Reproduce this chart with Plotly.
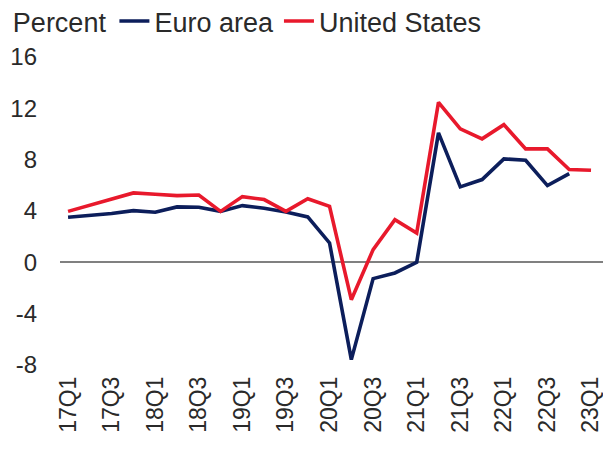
import plotly.graph_objects as go

quarters = [f"{y}Q{q}" for y in range(17, 24) for q in range(1, 5)][:25]
tick_labels = quarters[::2]

euro_area = [3.51, 3.65, 3.8, 4.03, 3.90, 4.32, 4.29, 3.97, 4.42, 4.21, 3.93, 3.54,
             1.51, -7.58, -1.27, -0.83, 0.0, 10.09, 5.88, 6.45, 8.06, 7.95, 5.98, 6.91, None]
united_states = [3.97, 4.45, 4.95, 5.41, 5.30, 5.20, 5.25, 3.97, 5.12, 4.89, 3.97, 4.96,
                 4.36, -2.91, 0.99, 3.33, 2.29, 12.47, 10.40, 9.62, 10.73, 8.84, 8.84, 7.23, 7.17]

y_ticks = [-8, -4, 0, 4, 8, 12, 16]
y_tick_text = ["-8", "-4", "0", "4", "8", "12", "16"]

FONT = "Liberation Sans, Arial, sans-serif"
TXT = "#2a2a2a"

fig = go.Figure()
fig.add_trace(go.Scatter(x=quarters, y=euro_area, mode="lines", name="Euro area",
                         line=dict(color="#0c1e5b", width=3.6)))
fig.add_trace(go.Scatter(x=quarters, y=united_states, mode="lines", name="United States",
                         line=dict(color="#e8192c", width=3.6)))

fig.update_layout(
    width=603, height=451,
    margin=dict(l=60, r=0, t=57, b=86, autoexpand=False),
    paper_bgcolor="white", plot_bgcolor="white",
    font=dict(family=FONT, size=24, color=TXT),
    showlegend=True,
    legend=dict(orientation="h", xref="container", yref="paper",
                x=0.018, y=1.195, xanchor="left", yanchor="top",
                title=dict(text="Percent", side="left", font=dict(size=27, color=TXT)),
                font=dict(size=27, color=TXT), itemwidth=30,
                bgcolor="rgba(0,0,0,0)", borderwidth=0, tracegroupgap=0),
    xaxis=dict(type="category", categoryorder="array", categoryarray=quarters,
               range=[-0.37, 24.55], tickmode="array", tickvals=tick_labels,
               ticktext=tick_labels, tickangle=-90, showgrid=False, zeroline=False,
               showline=False, ticks="", ticklabelstandoff=6, automargin=False,
               tickfont=dict(size=23, color=TXT)),
    yaxis=dict(range=[-8, 16], tickmode="array", tickvals=y_ticks, ticktext=y_tick_text,
               showgrid=False, zeroline=True, zerolinecolor="#808080", zerolinewidth=2,
               showline=False, ticks="", ticklabelstandoff=22, automargin=False,
               tickfont=dict(size=24, color=TXT)),
)

fig.write_html("out.html", config={"displayModeBar": False},
               post_script="document.body.style.margin='0';")
